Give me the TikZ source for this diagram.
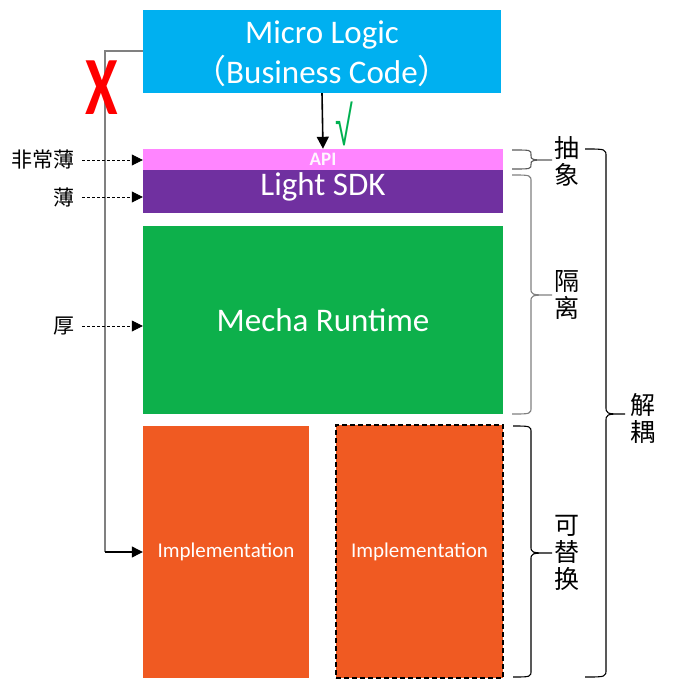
\documentclass[tikz,border=0pt]{standalone}
\usepackage{fontspec}
\setmainfont{Carlito}
\newfontfamily\cjk{Noto Sans CJK SC}
\newfontfamily\lsans{Liberation Sans}
\usetikzlibrary{arrows.meta}
\definecolor{mlcyan}{HTML}{00B0F0}
\definecolor{apipink}{HTML}{FF85FF}
\definecolor{sdkpurple}{HTML}{7030A0}
\definecolor{mechagreen}{HTML}{0DB04B}
\definecolor{implorange}{HTML}{F05A22}
\definecolor{okgreen}{HTML}{00B050}
\definecolor{linegray}{HTML}{808080}
\newcommand\mybrace[8][]{%
  \draw[bracestyle,#1] (#2,#5) .. controls (#3,#5) .. ({#3},{#5+#8})
    -- ({#3},{#6-#8}) .. controls (#3,#6) .. (#4,#6)
    .. controls (#3,#6) .. ({#3},{#6+#8})
    -- ({#3},{#7-#8}) .. controls (#3,#7) .. (#2,#7);}
\begin{document}
\begin{tikzpicture}[x=1pt,y=-1pt,
  block/.style={draw=none,inner sep=0pt,text=white,anchor=center,align=center},
  sidelabel/.style={inner sep=0pt,anchor=east,font=\cjk\fontsize{21}{24}\selectfont},
  rightlabel/.style={inner sep=0pt,align=center,font=\cjk\fontsize{25}{27}\selectfont},
  dotarrow/.style={densely dashed,line width=0.8pt,-{Triangle[length=11pt,width=11pt]},shorten <=7pt},
  bracestyle/.style={line width=1.1pt,black}]
\useasboundingbox (0,0) rectangle (677,679);

\node[block,fill=mlcyan,minimum width=358pt,minimum height=83pt] (ml) at (322,51.5) {};
\node[text=white,align=center,font=\fontsize{33}{40}\selectfont] (mltext) at (322,54)
  {Micro Logic\\{\cjk （}Business Code{\cjk ）}};
\node[block,fill=apipink,minimum width=360pt,minimum height=21pt,
  font=\bfseries\fontsize{19}{20}\selectfont,text=white!92!apipink] (api) at (323,159.5) {API};
\node[block,fill=sdkpurple,minimum width=360pt,minimum height=43pt] (sdk) at (323,191.5) {};
\node[text=white,font=\fontsize{33}{36}\selectfont] (sdktext) at (323,187) {Light SDK};
\node[block,fill=mechagreen,minimum width=360pt,minimum height=188pt,
  font=\fontsize{33}{36}\selectfont] (mecha) at (323,320) {Mecha Runtime};
\node[block,fill=implorange,minimum width=166pt,minimum height=252pt,
  font=\fontsize{21}{22}\selectfont] (impl1) at (226,552) {\raisebox{-2.5pt}{Implementation}};
\node[block,fill=implorange,draw=black,line width=1.5pt,dash pattern=on 5pt off 3pt,
  minimum width=167pt,minimum height=253pt,
  font=\fontsize{21}{22}\selectfont] (impl2) at (419.5,551.5) {\raisebox{-2.5pt}{Implementation}};

% main arrow
\draw[line width=1.6pt,-{Triangle[length=12pt,width=12pt]}] (ml.south) -- (api.north);
\node[text=okgreen,font=\lsans\fontsize{38}{40}\selectfont] (ok) at (344,124) {\scalebox{0.85}[1.45]{√}};

% bypass line
\coordinate (c1) at (105,51.5);
\coordinate (c2) at (105,552);
\draw[linegray,line width=2pt] (ml.west) -- (c1) -- (c2);
\draw[black,line width=1.2pt,-{Triangle[length=11pt,width=11pt]}] (c2) -- (impl1.west);
\node[text=red,font=\bfseries\fontsize{72}{72}\selectfont] (x) at (102,88) {\scalebox{0.82}[1.15]{X}};

% left labels
\node[sidelabel] (l1) at (75,160) {非常薄};
\node[sidelabel] (l2) at (75,197) {薄};
\node[sidelabel] (l3) at (75,326) {厚};
\draw[dotarrow] (l1.east) -- (l1.east -| api.west);
\draw[dotarrow] (l2.east) -- (l2.east -| sdk.west);
\draw[dotarrow] (l3.east) -- (l3.east -| mecha.west);

% braces
\mybrace[linegray!70!black]{512}{531}{552}{150}{160}{169}{4.5}
\mybrace[linegray]{512}{531}{552}{175}{295}{414}{7}
\mybrace{513}{531}{552}{426}{553}{677}{7}
\mybrace{585}{606}{625}{149}{414}{677}{8}

\node[rightlabel] (t1) at (567,161) {抽\\象};
\node[rightlabel] (t2) at (567,295) {隔\\离};
\node[rightlabel] (t3) at (567,553) {可\\替\\换};
\node[rightlabel] (t4) at (643,418) {解\\耦};
\end{tikzpicture}
\end{document}
